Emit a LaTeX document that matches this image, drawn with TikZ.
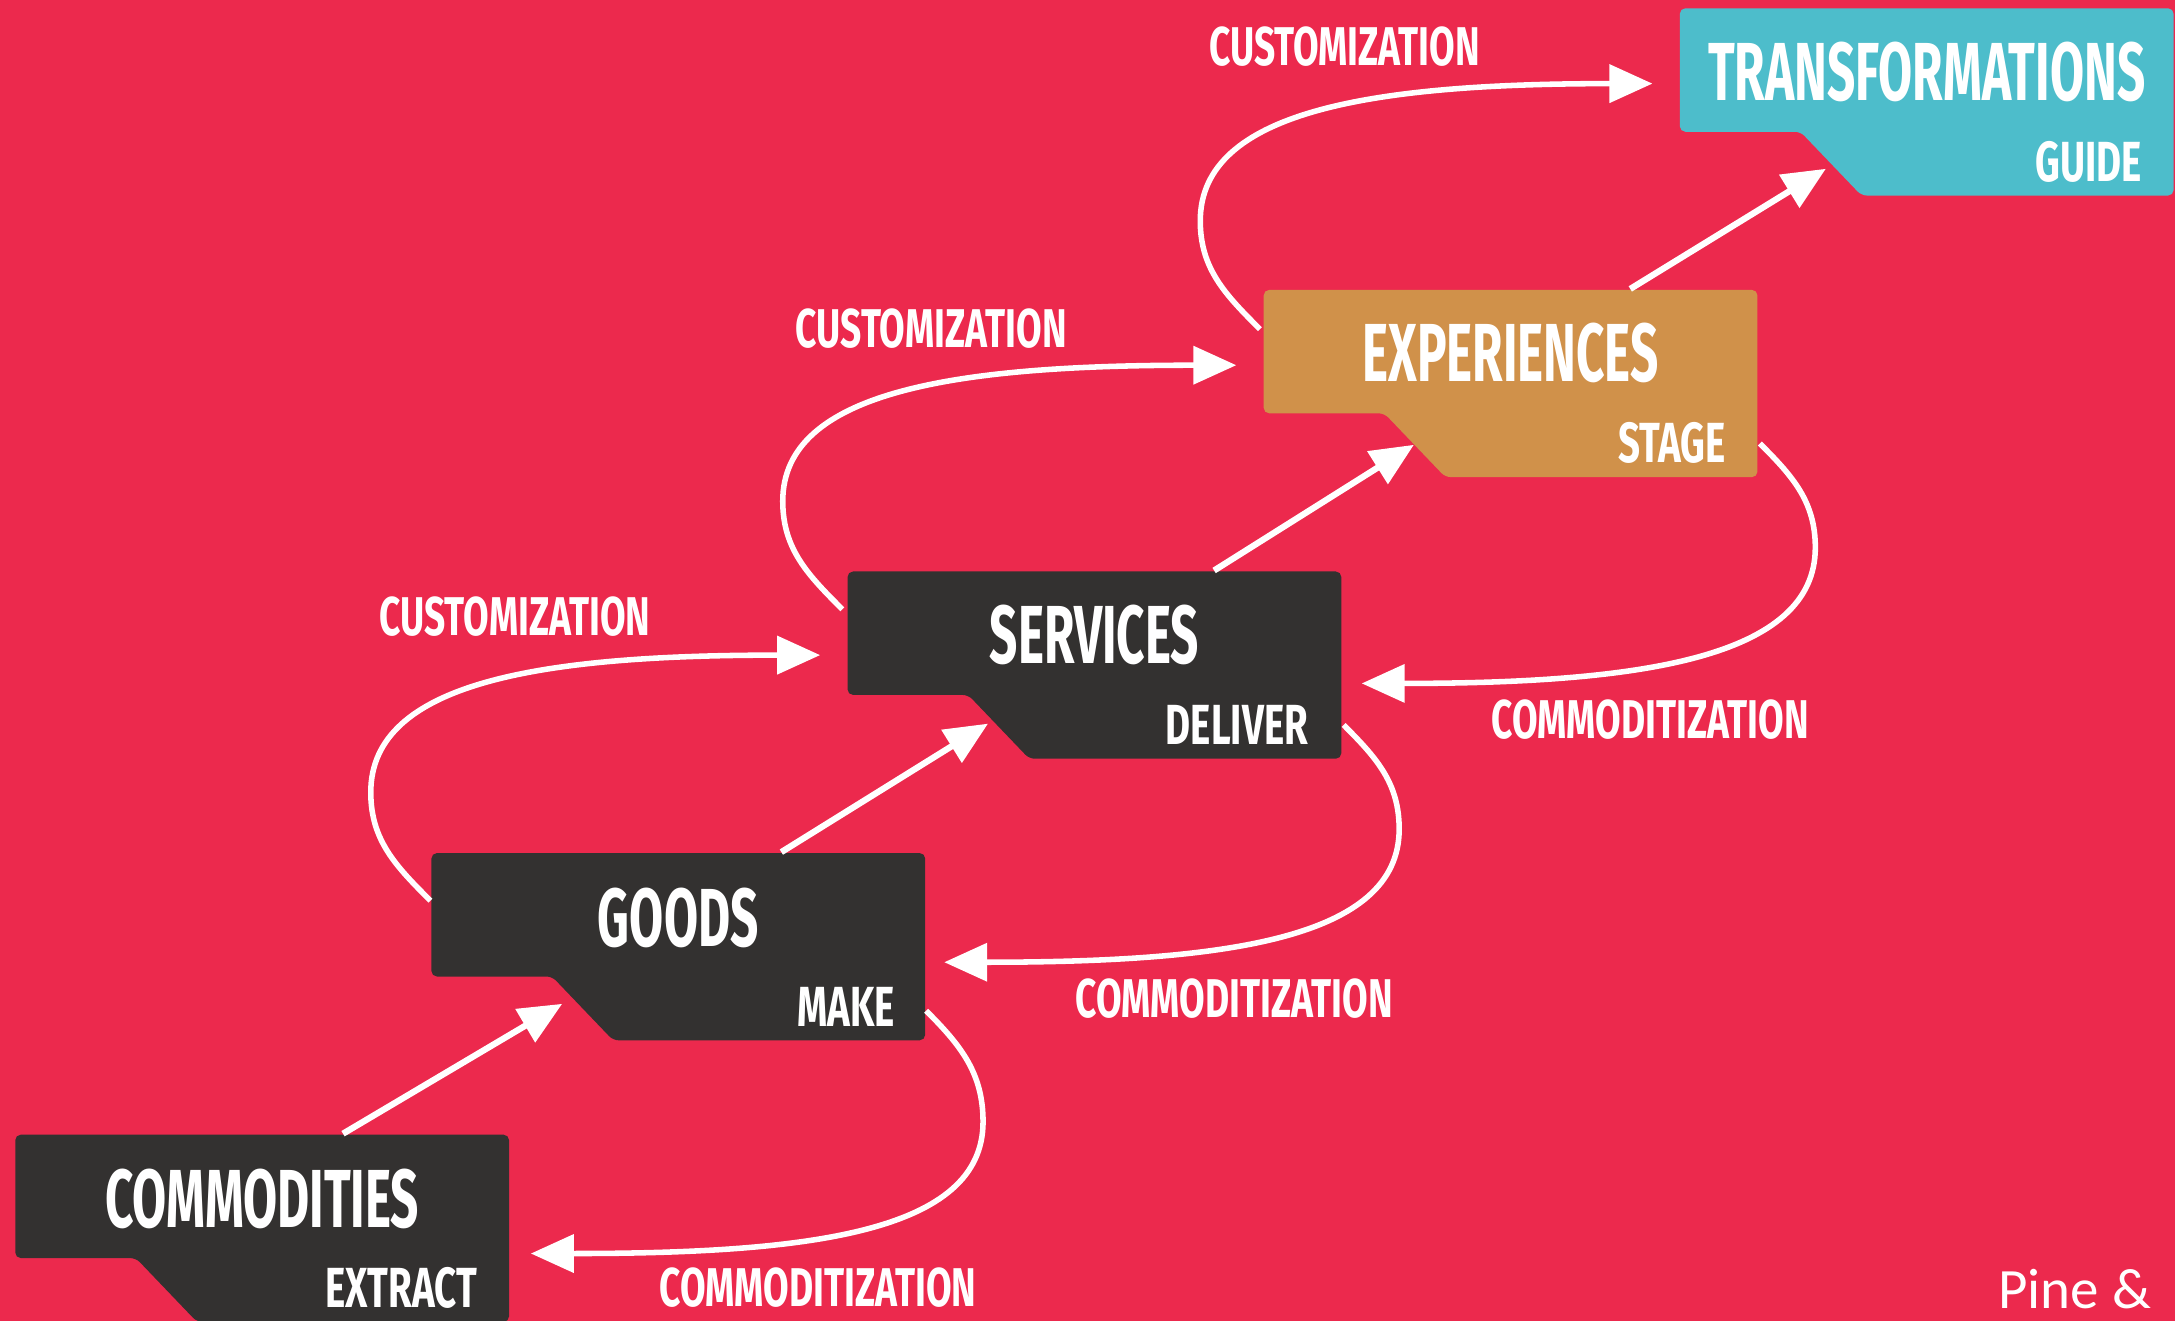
\documentclass[tikz,border=0pt]{standalone}
\usepackage{fontspec}
\newfontfamily\dinbold[FakeStretch=0.6]{Fira Sans}
\newfontfamily\dinnarrow[FakeStretch=0.68]{Fira Sans}
\newfontfamily\creditfont{Carlito}
\usetikzlibrary{arrows.meta}
\definecolor{bgred}{HTML}{EC294D}
\definecolor{dark}{HTML}{333130}
\definecolor{amber}{HTML}{D0914A}
\definecolor{tealbox}{HTML}{4DBDCB}
\tikzset{
  tab/.style={minimum width=35.6mm, minimum height=13.5mm, inner sep=0pt,
    path picture={\fill[#1, rounded corners=0.4mm]
      (path picture bounding box.north west) -- (path picture bounding box.north east)
      -- (path picture bounding box.south east)
      -- ([xshift=13.1mm]path picture bounding box.south west)
      -- ([shift={(8.7mm,4.6mm)}]path picture bounding box.south west)
      -- ([yshift=4.6mm]path picture bounding box.south west) -- cycle;}},
  title/.style={anchor=base, inner sep=0pt, text=white,
    font=\dinbold\bfseries\fontsize{16.9}{18}\selectfont},
  verb/.style={anchor=base east, inner sep=0pt, text=white,
    font=\dinnarrow\bfseries\fontsize{11.6}{13}\selectfont},
  note/.style={anchor=base, inner sep=0pt, text=white,
    font=\dinnarrow\bfseries\fontsize{11.2}{13}\selectfont},
  link/.style={->, white, line width=0.45mm},
  wire/.style={->, white, line width=0.4mm},
  credit/.style={anchor=base west, inner sep=0pt, text=white,
    font=\creditfont\fontsize{11.7}{14}\selectfont}
}

\begin{document}
\begin{tikzpicture}[x=0.1mm, y=0.1mm, >={Triangle[length=3.1mm,width=2.7mm]}]
    \useasboundingbox (0,0) rectangle (1568,952);
    \fill[bgred] (0,0) rectangle (1568,952);
    % the five stages
    \node[tab=dark] (commod) at (189,66.5) {};
    \node[tab=dark] (goods) at ([shift={(300,203)}]commod.center) {};
    \node[tab=dark] (serv) at ([shift={(300,203)}]goods.center) {};
    \node[tab=amber] (exper) at ([shift={(300,203)}]serv.center) {};
    \node[tab=tealbox] (transf) at ([shift={(300,203)}]exper.center) {};
    \node[title] (commod-t) at ([yshift=-6.8mm]commod.north) {COMMODITIES};
    \node[title] (goods-t) at ([yshift=-6.8mm]goods.north) {GOODS};
    \node[title] (serv-t) at ([yshift=-6.7mm]serv.north) {SERVICES};
    \node[title] (exper-t) at ([yshift=-6.7mm]exper.north) {EXPERIENCES};
    \node[title] (transf-t) at ([yshift=-6.7mm]transf.north) {TRANSFORMATIONS};
    \node[verb] (extract) at ([shift={(-23,11)}]commod.south east) {EXTRACT};
    \node[verb] (make) at ([shift={(-22,11)}]goods.south east) {MAKE};
    \node[verb] (deliver) at ([shift={(-24,11)}]serv.south east) {DELIVER};
    \node[verb] (stage) at ([shift={(-23,11)}]exper.south east) {STAGE};
    \node[verb] (guide) at ([shift={(-23,11)}]transf.south east) {GUIDE};
    % steps up
    \draw[link] ([xshift=23.7mm]commod.north west) -- ([shift={(95,27)}]goods.south west);
    \draw[link] ([xshift=25.3mm]goods.north west) -- ([shift={(102,26)}]serv.south west);
    \draw[link] ([xshift=26.5mm]serv.north west) -- ([shift={(109,24)}]exper.south west);
    \draw[link] ([xshift=26.5mm]exper.north west) -- ([shift={(106,20)}]transf.south west);
    % customization
    \draw[wire] ([shift={(0,-35)}]goods.north west) to[out=135,in=-90] ++(-43,78)
        to[out=90,in=180,out distance=8mm,in distance=20mm] ([shift={(-19,-61)}]serv.north west);
    \draw[wire] ([shift={(-3,-28)}]serv.north west) to[out=135,in=-90] ++(-43,78)
        to[out=90,in=180,out distance=8mm,in distance=20mm] ([shift={(-19,-55)}]exper.north west);
    \draw[wire] ([shift={(-2,-29)}]exper.north west) to[out=135,in=-90] ++(-43,78)
        to[out=90,in=180,out distance=8mm,in distance=20mm] ([shift={(-19,-55)}]transf.north west);
    \node[note] (cust1) at ([shift={(-239,-47)}]serv.north west) {CUSTOMIZATION};
    \node[note] (cust2) at ([shift={(-239,-42)}]exper.north west) {CUSTOMIZATION};
    \node[note] (cust3) at ([shift={(-241,-42)}]transf.north west) {CUSTOMIZATION};
    % commoditization
    \draw[wire] ([shift={(1,25)}]exper.south east) to[out=-45,in=90] ++(40,-75)
        to[out=-90,in=0,out distance=8mm,in distance=20mm] ([shift={(14,55)}]serv.south east);
    \draw[wire] ([shift={(1,25)}]serv.south east) to[out=-45,in=90] ++(40,-75)
        to[out=-90,in=0,out distance=8mm,in distance=20mm] ([shift={(13,57)}]goods.south east);
    \draw[wire] ([shift={(0,22)}]goods.south east) to[out=-45,in=90] ++(41,-80)
        to[out=-90,in=0,out distance=8mm,in distance=20mm] ([shift={(15,50)}]commod.south east);
    \node[note] (comm1) at ([shift={(222,15)}]serv.south east) {COMMODITIZATION};
    \node[note] (comm2) at ([shift={(222,17)}]goods.south east) {COMMODITIZATION};
    \node[note] (comm3) at ([shift={(222,12)}]commod.south east) {COMMODITIZATION};
    \node[credit] (pine) at (1440,9) {Pine \&};
\end{tikzpicture}
\end{document}
